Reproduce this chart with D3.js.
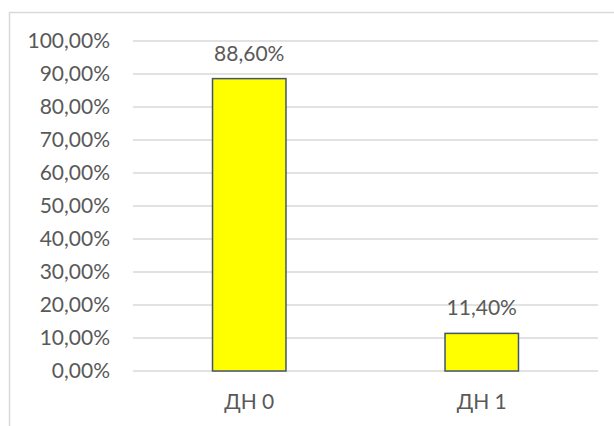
<!DOCTYPE html>
<html>
<head>
<meta charset="utf-8">
<script src="https://cdn.jsdelivr.net/npm/d3@7"></script>
<style>
  body { margin: 0; background: #fff; }
  text { font-family: Lato, "Open Sans", sans-serif; fill: #595959; }
</style>
</head>
<body>
<div id="chart"></div>
<script>
// chart data
var categories = ["ДН 0", "ДН 1"];
var values = [0.886, 0.114];
var y_ticks = [0, 0.1, 0.2, 0.3, 0.4, 0.5, 0.6, 0.7, 0.8, 0.9, 1.0];

const width = 614,
    height = 426;
const margin = {top: 41, right: 16, bottom: 55, left: 133};
const fontSize = 21;

const svg = d3.select("#chart")
  .append("svg")
    .attr("width", width)
    .attr("height", height);

// chart frame (only top and left edges show in the window)
svg.append("rect")
  .attr("x", 9.5)
  .attr("y", 12.5)
  .attr("width", 700)
  .attr("height", 500)
  .attr("fill", "none")
  .attr("stroke", "#d9d9d9")
  .attr("stroke-width", 1.5);

const x = d3.scaleBand()
  .domain(categories)
  .range([margin.left, width - margin.right])
  .padding(0);

const y = d3.scaleLinear()
  .domain([0, 1])
  .range([height - margin.bottom, margin.top]);

// excel style formatting with comma decimal
function pct(v) {
  return (v * 100).toFixed(2).replace(".", ",") + "%";
}

// gridlines
svg.append("g")
  .selectAll("line")
  .data(y_ticks)
  .join("line")
    .attr("x1", margin.left)
    .attr("x2", width - margin.right)
    .attr("y1", d => y(d))
    .attr("y2", d => y(d))
    .attr("stroke", "#d9d9d9")
    .attr("stroke-width", 1.5);

// y axis labels
const yAxis = svg.append("g")
  .attr("transform", `translate(${margin.left - 23},0)`)
  .call(d3.axisLeft(y).tickValues(y_ticks).tickFormat(pct).tickSize(0).tickPadding(0));
yAxis.select(".domain").remove();
yAxis.selectAll("text")
  .attr("font-size", fontSize)
  .attr("font-family", null)
  .attr("fill", null);

// x axis labels
const xAxis = svg.append("g")
  .attr("transform", `translate(0,${height - margin.bottom})`)
  .call(d3.axisBottom(x).tickSize(0).tickPadding(23));
xAxis.select(".domain").remove();
xAxis.selectAll("text")
  .attr("font-size", fontSize)
  .attr("font-family", null)
  .attr("fill", null);

const barW = x.bandwidth() * 0.316;

// bars
svg.append("g")
  .selectAll("rect")
  .data(values)
  .join("rect")
    .attr("x", (d, i) => x(categories[i]) + (x.bandwidth() - barW) / 2)
    .attr("y", d => y(d))
    .attr("width", barW)
    .attr("height", d => y(0) - y(d))
    .attr("fill", "#ffff00")
    .attr("stroke", "#44546a")
    .attr("stroke-width", 1.5);

// data labels
svg.append("g")
  .selectAll("text")
  .data(values)
  .join("text")
    .attr("x", (d, i) => x(categories[i]) + x.bandwidth() / 2)
    .attr("y", d => y(d) - 18)
    .attr("text-anchor", "middle")
    .attr("font-size", fontSize)
    .text(d => pct(d));
</script>
</body>
</html>
